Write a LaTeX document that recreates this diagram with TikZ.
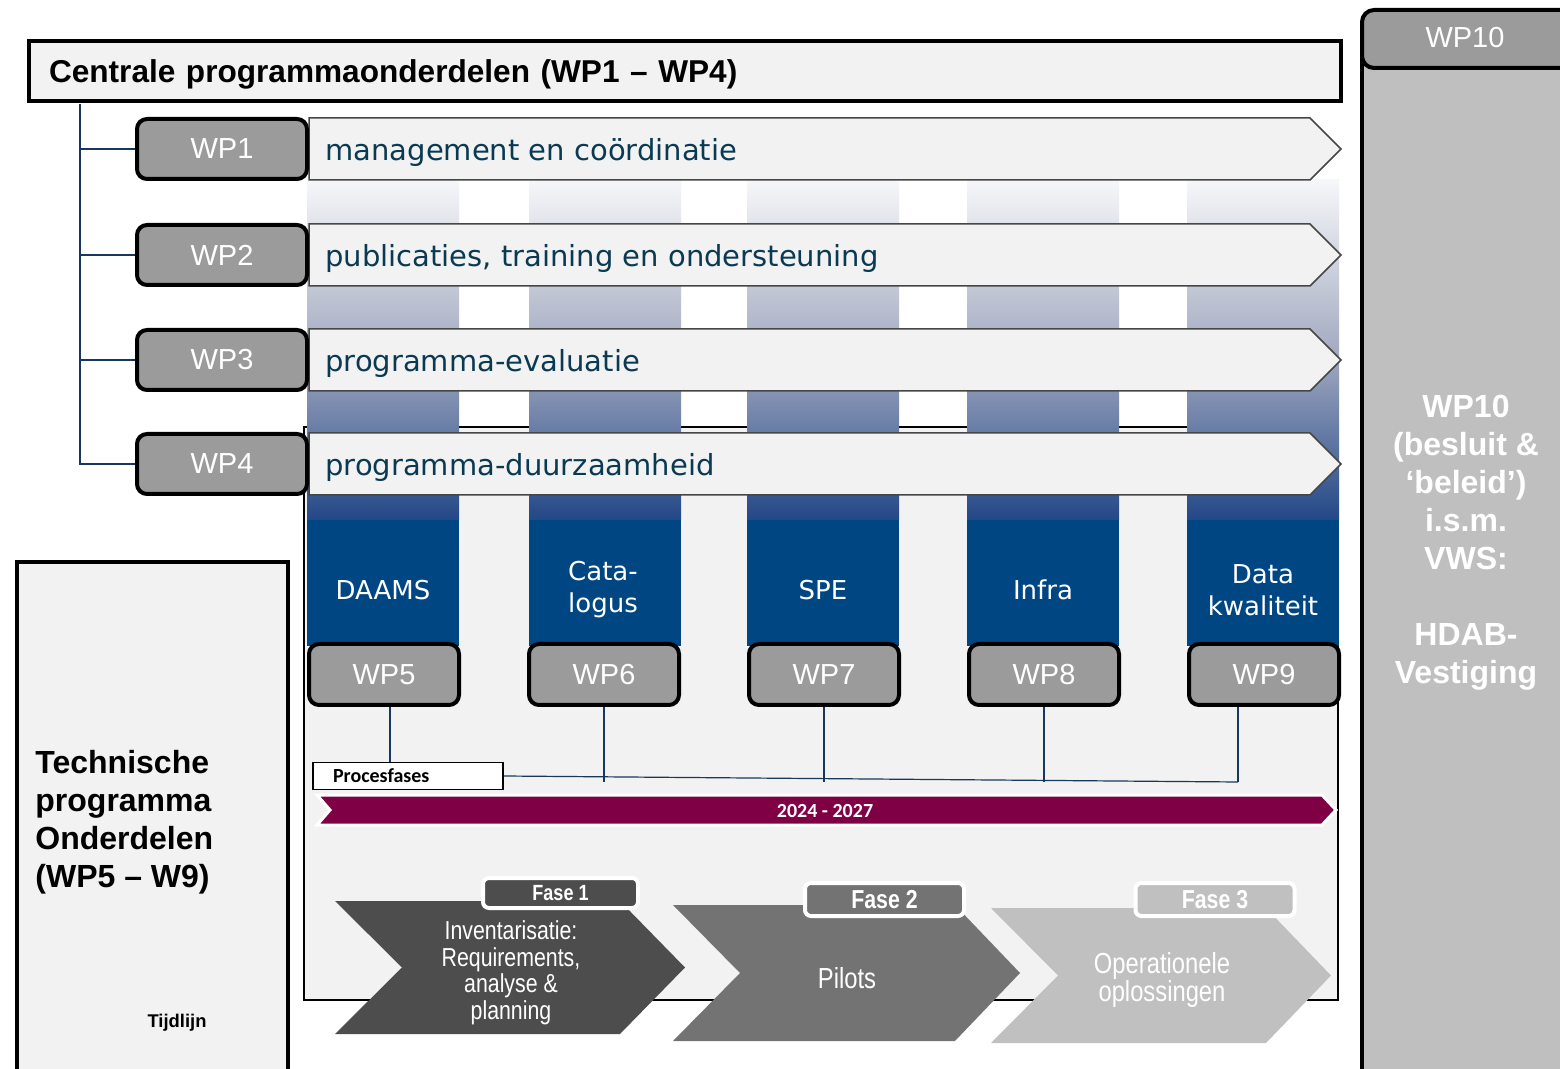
\documentclass[tikz,border=0pt]{standalone}
\usepackage{fontspec}
\setmainfont{Liberation Sans}
\newfontfamily\verdana{DejaVu Sans}
\newfontfamily\calibri{Carlito}
\newfontfamily\narrow[FakeStretch=0.82]{Liberation Sans}
\usepackage{xcolor}
\usetikzlibrary{calc}
\definecolor{panelgray}{RGB}{242,242,242}
\definecolor{wpgray}{RGB}{155,155,155}
\definecolor{sidegray}{RGB}{191,191,191}
\definecolor{barline}{RGB}{70,70,70}
\definecolor{tealink}{RGB}{10,58,82}
\definecolor{linkblue}{RGB}{23,55,94}
\definecolor{blockblue}{RGB}{0,70,130}
\definecolor{topblue}{RGB}{246,247,249}
\definecolor{midblue}{RGB}{165,172,194}
\definecolor{lowblue}{RGB}{35,72,135}
\definecolor{timered}{RGB}{128,0,70}
\definecolor{faseone}{RGB}{77,77,77}
\definecolor{fasetwo}{RGB}{115,115,115}
\definecolor{fasethree}{RGB}{192,192,192}

\begin{document}
\begin{tikzpicture}[x=0.5pt, y=-0.5pt,
    wpbox/.style={draw, line width=2pt, fill=wpgray, rounded corners=5pt, text=white, inner sep=0pt,
        minimum width=85pt, minimum height=30pt, font=\fontsize{14.5}{17}\selectfont},
    bararrow/.style={draw=barline, line width=0.75pt, fill=panelgray},
    bartext/.style={anchor=west, inner sep=0pt, text=tealink, font=\verdana\fontsize{14.5}{17}\selectfont},
    collabel/.style={text=white, align=center, inner sep=0pt, font=\verdana\fontsize{13}{16}\selectfont},
    conn/.style={draw=linkblue, line width=0.6pt},
    faselabel/.style={draw=white, line width=2pt, rounded corners=3pt, text=white, inner sep=0pt,
        minimum width=79.5pt, minimum height=16.5pt, font=\narrow\bfseries\fontsize{13}{15}\selectfont},
    fasetext/.style={text=white, align=center, inner sep=0pt}
]
    \useasboundingbox (0,0) rectangle (1560,1069);
    \fill[white] (0,0) rectangle (1560,1069);

    % Title
    \node[draw, line width=2pt, fill=panelgray, text width=636pt, align=left, inner xsep=10pt,
        minimum height=30pt, inner ysep=0pt, text height=12pt, text depth=0pt,
        font=\bfseries\fontsize{15.8}{19}\selectfont]
        (hdr) at (685,71) {Centrale programmaonderdelen (WP1 – WP4)};

    % Technical frame behind the columns
    \draw[line width=1pt, fill=panelgray] (304,427) rectangle (1338,1000);

    % Columns fading into blue
    \foreach \x in {307,529,747,967,1187} {
        \shade[top color=topblue, bottom color=lowblue, middle color=midblue] (\x,180) rectangle (\x+152,520);
        \fill[blockblue] (\x,520) rectangle (\x+152,646);
    }

    % Central work packages
    \coordinate (spine) at (80,104);
    \foreach \y/\n/\txt in {149/1/management en coördinatie,
                           255/2/{publicaties, training en ondersteuning},
                           360/3/programma-evaluatie,
                           464/4/programma-duurzaamheid} {
        \draw[bararrow] (309,\y-31) -- (1310,\y-31) -- (1341,\y) -- (1310,\y+31) -- (309,\y+31) -- cycle;
        \node[bartext] (bar\n) at (325,\y+4) {\txt};
        \node[wpbox] (wp\n) at (222,\y) {WP\n};
        \draw[conn] (wp\n.west -| spine) -- (wp\n.west);
    }
    \draw[conn] (spine) |- (wp4.west);

    % Technical work packages
    \foreach \x/\n/\lab in {307/5/DAAMS, 527/6/{Cata-\\logus}, 747/7/SPE,
                            967/8/Infra, 1187/9/{Data\\kwaliteit}} {
        \node[collabel] (lab\n) at (\x+76,590) {\lab};
        \node[wpbox, minimum width=75pt, minimum height=30.5pt] (wp\n) at (\x+77,674.5) {WP\n};
    }

    % Left side panel
    \draw[line width=2pt, fill=panelgray] (17,562) rectangle (288,1085);
    \node[anchor=west, align=left, inner sep=0pt, font=\bfseries\fontsize{16}{19}\selectfont]
        (techtitle) at (35,822) {Technische\\programma\\Onderdelen\\(WP5 – W9)};
    \node[inner sep=0pt, font=\bfseries\fontsize{9.2}{11}\selectfont] (tijdlijn) at (177,1023) {Tijdlijn};

    % Process phases
    \node[draw, fill=white, line width=0.75pt, text width=75pt, align=left, inner xsep=10pt, inner ysep=0pt,
        minimum height=13.5pt, font=\calibri\bfseries\fontsize{10}{12}\selectfont] (proc) at (408,776) {Procesfases};
    \coordinate (busend) at (1238,782);
    \draw[conn] (proc.east) -- (busend);
    \draw[conn] ([xshift=3pt]wp5.south) -- ([xshift=3pt]wp5.south |- proc.north);
    \foreach \n in {6,7,8} {
        \draw[conn] (wp\n.south) -- (wp\n.south |- busend);
    }
    \draw[conn] ([xshift=-13pt]wp9.south) -- (busend);

    % Timeline
    \draw[white, line width=1.5pt, fill=timered]
        (317,795) -- (1322,795) -- (1336,810) -- (1322,825) -- (317,825) -- (330,810) -- cycle;
    \node[text=white, inner sep=0pt, font=\calibri\bfseries\fontsize{10}{12}\selectfont] (years) at (825,811) {2024 - 2027};

    % Phase chevrons
    \foreach \x/\ya/\yb/\t/\col in {335/901/1034/350/faseone, 673/905/1041/347/fasetwo, 991/908/1043/340/fasethree} {
        \fill[\col] (\x,\ya) -- (\x+\t-65,\ya) -- (\x+\t,{(\ya+\yb)/2}) -- (\x+\t-65,\yb) -- (\x,\yb)
            -- (\x+67,{(\ya+\yb)/2}) -- cycle;
    }
    \node[faselabel, fill=faseone, minimum width=77.5pt, minimum height=15pt, font=\narrow\bfseries\fontsize{11}{13}\selectfont]
        (fase1) at (560.5,893) {Fase 1};
    \node[faselabel, fill=fasetwo] (fase2) at (884.5,899.5) {Fase 2};
    \node[faselabel, fill=fasethree] (fase3) at (1215,899.5) {Fase 3};
    \node[fasetext, font=\narrow\fontsize{13}{13.25}\selectfont] (inv) at (511,973)
        {Inventarisatie:\\Requirements,\\analyse \&\\planning};
    \node[fasetext, font=\narrow\fontsize{14.5}{14}\selectfont] (pilots) at (847,978) {Pilots};
    \node[fasetext, font=\narrow\fontsize{14.5}{14}\selectfont] (oper) at (1162,980) {Operationele\\oplossingen};

    % WP10 side panel
    \draw[line width=2pt, fill=sidegray] (1362,40) rectangle (1600,1100);
    \node[wpbox, minimum width=120pt, minimum height=29pt, rounded corners=6pt] (wp10) at (1482,39) {};
    \node[text=white, inner sep=0pt, font=\fontsize{14.5}{17}\selectfont] (wp10lab) at (1465,38) {WP10};
    \node[text=white, align=center, inner sep=0pt, font=\bfseries\fontsize{16}{19}\selectfont] (wp10txt) at (1466,543)
        {WP10\\(besluit \&\\‘beleid’)\\i.s.m.\\VWS:\\[19pt]HDAB-\\Vestiging};
\end{tikzpicture}
\end{document}
